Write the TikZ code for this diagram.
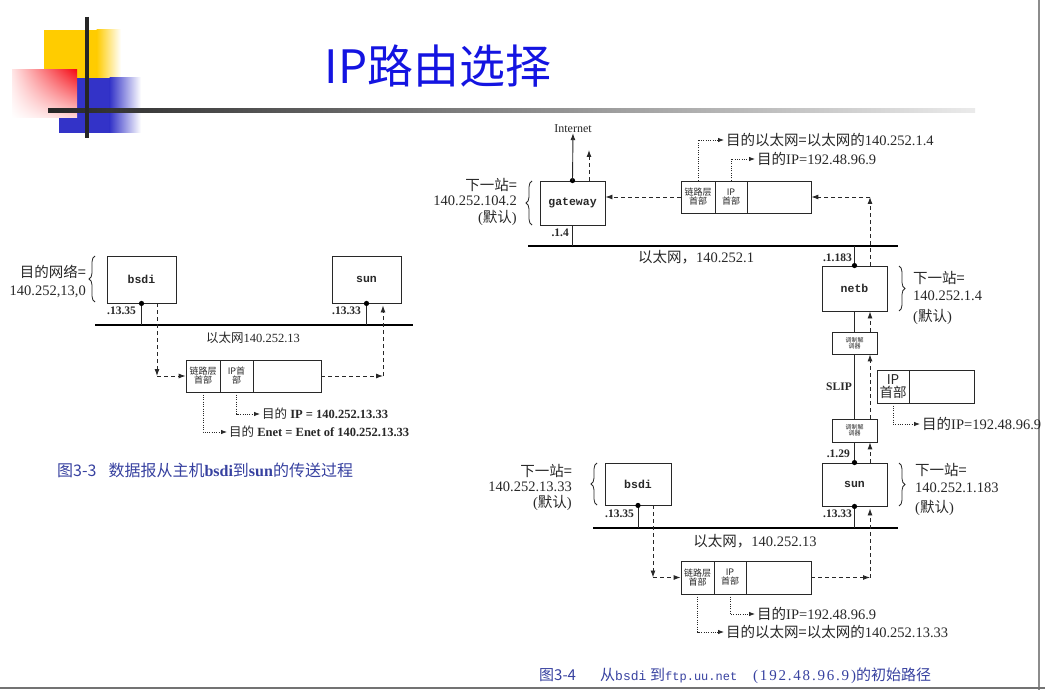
\documentclass[tikz,border=0pt]{standalone}
\usepackage{fontspec}
\setmainfont{Liberation Serif}
\newfontfamily\cjk{Noto Sans CJK SC}
\newfontfamily\monof{Liberation Mono}
\usetikzlibrary{arrows.meta,decorations.pathreplacing,shadings}
\definecolor{ttl}{RGB}{20,20,225}
\definecolor{capc}{RGB}{55,65,160}
\definecolor{ln}{RGB}{40,40,40}
\definecolor{ydeco}{RGB}{255,204,0}
\definecolor{bdeco}{RGB}{51,51,200}
\definecolor{rdeco}{RGB}{245,10,20}
\newcommand\fsz[1]{\fontsize{#1}{#1}\selectfont}
\newcommand\zh[1]{{\cjk #1}}
\tikzset{
  hostbox/.style={draw=ln, line width=0.9pt, fill=white, inner sep=0pt, font=\monof\bfseries\fsz{11.5}, text=ln},
  cell/.style={draw=ln, line width=0.8pt, inner sep=0pt, align=center, font=\cjk\fsz{9}, text=ln},
  modem/.style={draw=ln, line width=0.8pt, inner sep=0pt, align=center, font=\cjk\fsz{6}, text=ln, fill=white},
  ether/.style={line width=2.6pt, draw=black},
  wire/.style={line width=0.9pt, draw=ln},
  dsh/.style={line width=0.9pt, draw=ln, dash pattern=on 4pt off 3pt, -{Latex[length=7pt,width=5pt]}},
  dotl/.style={line width=0.8pt, draw=ln, dash pattern=on 1pt off 1.3pt, -{Latex[length=6pt,width=4.5pt]}},
  lbl/.style={inner sep=0pt, text=ln, font=\fsz{14.5}},
  lbls/.style={inner sep=0pt, text=ln, font=\fsz{12.5}},
  addr/.style={inner sep=0pt, text=ln, font=\bfseries\fsz{11.5}},
  brc/.style={draw=ln, line width=0.8pt, decorate, decoration={brace, amplitude=6pt}},
  dotc/.style={fill=black}
}
\begin{document}
\begin{tikzpicture}[x=1pt,y=-1pt]
\useasboundingbox (0,0) rectangle (1045,690);
\fill[white] (0,0) rectangle (1045,690);
% ---------- title decoration ----------
\fill[ydeco] (44,30) rectangle (97,80);
\shade[left color=ydeco, right color=white] (96.5,30) rectangle (121,80);
\fill[bdeco] (59,78) rectangle (110,133);
\shade[left color=bdeco, right color=white] (109.5,78) rectangle (141,133);
\shade[upper right=rdeco, upper left=red!10, lower right=red!15, lower left=white] (12,70) rectangle (77,118);
\shade[left color=black!85, right color=black!8] (48,109) rectangle (975,113);
\draw[line width=4pt, black!85] (87,17) -- (87,138);
\node[inner sep=0pt, text=ttl, font=\cjk\fsz{46}] (title) at (438,66) {IP路由选择};
% frame lines of the slide
\draw[black!45, line width=1.2pt] (1039,0) -- (1039,690);
\draw[black!55, line width=1.5pt] (0,688) -- (1045,688);

% =========== Figure 3-3 (left) ===========
\node[hostbox, minimum width=69pt, minimum height=47pt] (bsdiL) at (141.5,279.5) {bsdi};
\node[hostbox, minimum width=69pt, minimum height=47pt] (sunL) at (366.5,279.5) {sun};
\coordinate (eL1) at (95,325);
\coordinate (eL2) at (413,325);
\draw[ether] (eL1) -- (eL2);
\draw[wire] (bsdiL.south) -- (bsdiL.south |- eL1);
\draw[wire] (sunL.south) -- (sunL.south |- eL1);
\fill[dotc] (bsdiL.south) circle (2.6);
\fill[dotc] (sunL.south) circle (2.6);
\node[addr, anchor=west] (aL1) at (107,311) {.13.35};
\node[addr, anchor=west] (aL2) at (332,311) {.13.33};
\node[lbls] (ethL) at (253,338) {\zh{以太网}140.252.13};
\node[lbl, anchor=east] (dn1) at (86,272) {\zh{目的网络=}};
\node[lbl, anchor=east] (dn2) at (86,292) {140.252,13,0};
\draw[brc] (95,302) -- (95,256);
% frame
\node[cell, minimum width=34pt, minimum height=32pt] (fL1) at (203,376) {链路层\\首部};
\node[cell, minimum width=33pt, minimum height=32pt] (fL2) at (236.5,376) {IP首\\部};
\node[cell, minimum width=68pt, minimum height=32pt] (fL3) at (287,376) {};
\coordinate (cL1) at (157,376);
\coordinate (cL2) at (383,376);
\draw[dsh] (bsdiL.south -| cL1) -- (cL1);
\draw[dsh] (cL1) -- (fL1.west);
\draw[dsh] (fL3.east) -- (cL2);
\draw[dsh] (cL2) -- ([yshift=-2pt]sunL.south -| cL2);
\node[lbls, anchor=west, inner sep=2pt] (tL1) at (260,414) {\zh{目的} \textbf{IP = 140.252.13.33}};
\node[lbls, anchor=west, inner sep=2pt] (tL2) at (227,432) {\zh{目的} \textbf{Enet = Enet of 140.252.13.33}};
\draw[dotl] (fL2.south) |- (tL1.west);
\draw[dotl] (fL1.south) |- (tL2.west);
\node[anchor=west, inner sep=0pt, text=capc, font=\cjk\fsz{16}] (cap1) at (57,470) {图3-3\hspace{12pt}数据报从主机\textbf{\rmfamily bsdi}到\textbf{\rmfamily sun}的传送过程};

% =========== Figure 3-4 (right) ===========
% top network 140.252.1
\node[hostbox, minimum width=65pt, minimum height=44pt] (gw) at (572.5,203) {gateway};
\coordinate (eT1) at (528,246);
\coordinate (eT2) at (898,246);
\draw[ether] (eT1) -- (eT2);
\draw[wire] (gw.south) -- (gw.south |- eT1);
\node[addr, anchor=east] (agw) at (569,233) {.1.4};
\node[inner sep=0pt, text=ln, font=\fsz{12}] (inet) at (573,129) {Internet};
\fill[dotc] (gw.north) circle (2.6);
\draw[wire, -{Latex[length=7pt,width=5pt]}] (gw.north) -- (inet.south);
\coordinate (gwd) at (589,150);
\draw[dsh] (gw.north -| gwd) -- (gwd);
\node[lbl, anchor=east] (g1) at (517,185) {\zh{下一站=}};
\node[lbl, anchor=east] (g2) at (517,201) {140.252.104.2};
\node[lbl, anchor=east] (g3) at (517,218) {(\zh{默认})};
\draw[brc] (532,225) -- (532,181);
\node[lbl] (ethT) at (696,257) {\zh{以太网，}140.252.1};
% top frame
\node[cell, minimum width=34pt, minimum height=32pt] (fT1) at (698,197) {链路层\\首部};
\node[cell, minimum width=32pt, minimum height=32pt] (fT2) at (731,197) {IP\\首部};
\node[cell, minimum width=64pt, minimum height=32pt] (fT3) at (779,197) {};
\draw[dsh] (fT1.west) -- (fT1.west -| gw.east);
\node[lbl, anchor=west, inner sep=2pt] (tT1) at (724,140) {\zh{目的以太网=以太网的}140.252.1.4};
\node[lbl, anchor=west, inner sep=2pt] (tT2) at (755,159) {\zh{目的}IP=192.48.96.9};
\draw[dotl] (fT1.north) |- (tT1.west);
\draw[dotl] (fT2.north) |- (tT2.west);
% netb
\node[hostbox, minimum width=65pt, minimum height=45pt] (netb) at (854.5,288.5) {netb};
\draw[wire] (netb.north) -- (netb.north |- eT1);
\fill[dotc] (netb.north) circle (2.6);
\node[addr, anchor=east] (anb) at (852,258) {.1.183};
\coordinate (cT) at (870,197);
\draw[dsh] (netb.north -| cT) -- (cT);
\draw[dsh] (cT) -- (fT3.east);
\node[lbl, anchor=west] (n1) at (913,278) {\zh{下一站=}};
\node[lbl, anchor=west] (n2) at (913,296) {140.252.1.4};
\node[lbl, anchor=west] (n3) at (913,317) {(\zh{默认})};
\draw[brc] (899,266) -- (899,311);
% modems and SLIP
\node[modem, minimum width=45pt, minimum height=22pt] (m1) at (854.5,343) {调制解\\调器};
\node[modem, minimum width=45pt, minimum height=23pt] (m2) at (854.5,430.5) {调制解\\调器};
\node[hostbox, minimum width=65pt, minimum height=43pt] (sunR) at (854.5,484.5) {sun};
\draw[wire] (netb.south) -- (m1.north);
\draw[wire] (m1.south) -- (m2.north);
\draw[wire] (m2.south) -- (sunR.north);
\fill[dotc] (sunR.north) circle (2.6);
\coordinate (dx) at (870,0);
\draw[dsh] (m1.north -| dx) -- (netb.south -| dx);
\draw[dsh] (m2.north -| dx) -- (m1.south -| dx);
\draw[dsh] (sunR.north -| dx) -- (m2.south -| dx);
\node[inner sep=0pt, text=ln, font=\bfseries\fsz{11.5}] (slip) at (839,387) {SLIP};
\node[addr, anchor=east] (a129) at (850,454) {.1.29};
\node[cell, font=\cjk\fsz{13.5}, minimum width=32pt, minimum height=33pt] (fS1) at (893,386.5) {IP\\首部};
\node[cell, minimum width=65pt, minimum height=33pt] (fS2) at (941.5,386.5) {};
\node[lbl, anchor=west, inner sep=2pt] (tS1) at (920,424) {\zh{目的}IP=192.48.96.9};
\draw[dotl] (fS1.south) |- (tS1.west);
% bottom network 140.252.13
\node[hostbox, minimum width=66pt, minimum height=42pt] (bsdiR) at (638,484) {bsdi};
\coordinate (eB1) at (593,528);
\coordinate (eB2) at (898,528);
\draw[ether] (eB1) -- (eB2);
\draw[wire] (bsdiR.south) -- (bsdiR.south |- eB1);
\draw[wire] (sunR.south) -- (sunR.south |- eB1);
\fill[dotc] (bsdiR.south) circle (2.6);
\fill[dotc] (sunR.south) circle (2.6);
\node[addr, anchor=west] (ab1) at (605,514) {.13.35};
\node[addr, anchor=west] (ab2) at (823,514) {.13.33};
\node[lbl] (ethB) at (755,541) {\zh{以太网，}140.252.13};
\node[lbl, anchor=east] (b1) at (572,471) {\zh{下一站=}};
\node[lbl, anchor=east] (b2) at (572,487) {140.252.13.33};
\node[lbl, anchor=east] (b3) at (572,503) {(\zh{默认})};
\draw[brc] (597,505) -- (597,463);
\node[lbl, anchor=west] (s1) at (915,470) {\zh{下一站=}};
\node[lbl, anchor=west] (s2) at (915,488) {140.252.1.183};
\node[lbl, anchor=west] (s3) at (915,508) {(\zh{默认})};
\draw[brc] (899,463) -- (899,506);
% bottom frame
\node[cell, minimum width=33pt, minimum height=33pt] (fB1) at (697.5,577.5) {链路层\\首部};
\node[cell, minimum width=32pt, minimum height=33pt] (fB2) at (730,577.5) {IP\\首部};
\node[cell, minimum width=65pt, minimum height=33pt] (fB3) at (778.5,577.5) {};
\coordinate (cB1) at (653,577.5);
\coordinate (cB2) at (870,577.5);
\draw[dsh] (bsdiR.south -| cB1) -- (cB1);
\draw[dsh] (cB1) -- (fB1.west);
\draw[dsh] (fB3.east) -- (cB2);
\draw[dsh] (cB2) -- ([yshift=-2pt]sunR.south -| cB2);
\node[lbl, anchor=west, inner sep=2pt] (tB1) at (755,614) {\zh{目的}IP=192.48.96.9};
\node[lbl, anchor=west, inner sep=2pt] (tB2) at (724,632) {\zh{目的以太网=以太网的}140.252.13.33};
\draw[dotl] (fB2.south) |- (tB1.west);
\draw[dotl] (fB1.south) |- (tB2.west);
\node[anchor=west, inner sep=0pt, text=capc, font=\cjk\fsz{15}] (cap2) at (539,676) {\makebox[61pt][l]{图3-4}\makebox[50pt][l]{从{\monof\fsz{13}bsdi}}\makebox[103pt][l]{到{\monof\fsz{12}ftp.uu.net}}{\rmfamily\fsz{15}\addfontfeature{LetterSpace=12}(192.48.96.9)}的初始路径};
\end{tikzpicture}
\end{document}
